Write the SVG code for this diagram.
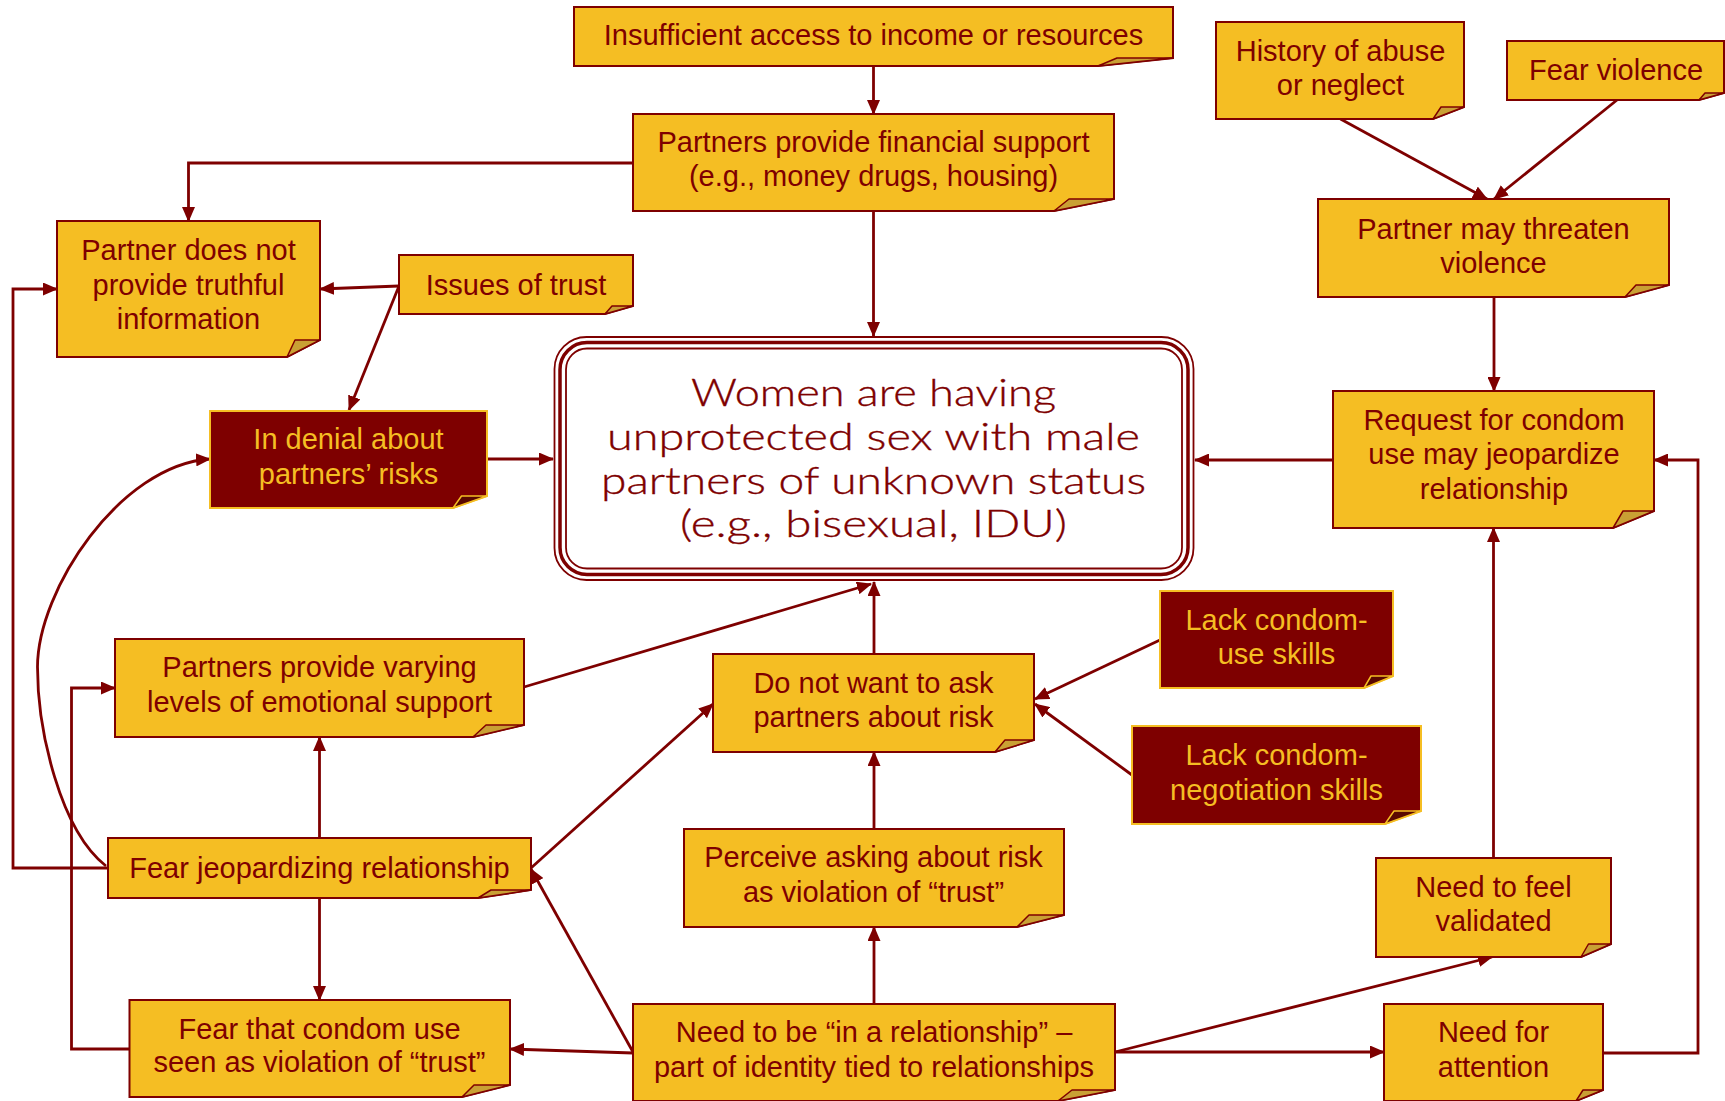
<svg xmlns="http://www.w3.org/2000/svg" width="1725" height="1101" viewBox="0 0 1725 1101">
  <style>
    .body { fill: #F5BE23; stroke: #7E0000; stroke-width: 2; stroke-linejoin: miter; }
    .fold { fill: #C9A034; stroke: #7E0000; stroke-width: 1.5; stroke-linejoin: round; }
    .dark .body { fill: #7E0000; stroke: #F5BE23; }
    .dark .fold { fill: #5A0800; stroke: #F5BE23; }
    .t { font-family: "Liberation Sans", Arial, sans-serif; font-size: 29px; fill: #7E0000; text-anchor: middle; }
    .dark .t { fill: #F5BE23; }
    .ct { font-family: Lato, "DejaVu Sans", sans-serif; font-weight: 300; font-size: 37px; fill: #7E0000; stroke: #7E0000; stroke-width: 0.35; text-anchor: middle; }
    .c { fill: none; stroke: #7E0000; stroke-width: 2.8; marker-end: url(#arr); }
    .frame { fill: none; stroke: #7E0000; }
  </style>
  <defs>
    <marker id="arr" viewBox="0 0 15 13" refX="14" refY="6.5" markerWidth="15" markerHeight="13" markerUnits="userSpaceOnUse" orient="auto">
      <path d="M0,0 L15,6.5 L0,13 z" fill="#7E0000"/>
    </marker>
  </defs>
  <rect width="1725" height="1101" fill="#FFFFFF"/>

  <!-- connectors -->
  <g id="connectors">
    <path class="c" d="M873.5,66 V114"/>
    <path class="c" d="M633,163 H188.5 V221"/>
    <path class="c" d="M873.5,211 V336"/>
    <path class="c" d="M399,286 L320,289"/>
    <path class="c" d="M399,286 L349,410"/>
    <path class="c" d="M487,459 L553,459"/>
    <path class="c" d="M1340.5,119 L1487,199"/>
    <path class="c" d="M1617,100 L1494,199"/>
    <path class="c" d="M1494,297 V391"/>
    <path class="c" d="M1333,460 H1195"/>
    <path class="c" d="M1603,1053 H1698 V460 H1654"/>
    <path class="c" d="M1493.5,858 V528"/>
    <path class="c" d="M1115,1052 L1492,957"/>
    <path class="c" d="M1115,1052 H1384"/>
    <path class="c" d="M874,1004 V927"/>
    <path class="c" d="M874,829 V752"/>
    <path class="c" d="M874,654 V582"/>
    <path class="c" d="M524,687 L871,584"/>
    <path class="c" d="M1160,640 L1035,699"/>
    <path class="c" d="M1132,775 L1035,704"/>
    <path class="c" d="M531,868 L713,704"/>
    <path class="c" d="M633,1052 L531,869"/>
    <path class="c" d="M633,1053 L510,1049"/>
    <path class="c" d="M319.5,838 V737"/>
    <path class="c" d="M319.5,898 V1000"/>
    <path class="c" d="M108,868 H13 V289 H57"/>
    <path class="c" d="M129.5,1049 H71.5 V688 H115"/>
    <path class="c" d="M106,866 C60,830 37.5,730 37.5,667 C37.5,590 120,465 210,459"/>
  </g>

  <!-- top row -->
  <g id="income">
    <path class="body" d="M574,7 H1173 V58 L1098,66 H574 Z"/>
    <path class="fold" d="M1098,66 L1117,58 L1173,58 Z"/>
    <text class="t" x="873.5" y="45">Insufficient access to income or resources</text>
  </g>
  <g id="financial">
    <path class="body" d="M633,114 H1114 V199 L1054,211 H633 Z"/>
    <path class="fold" d="M1054,211 L1069,199 L1114,199 Z"/>
    <text class="t" x="873.5" y="151.5">Partners provide financial support</text>
    <text class="t" x="873.5" y="186">(e.g., money drugs, housing)</text>
  </g>
  <g id="history">
    <path class="body" d="M1216,22 H1464 V107 L1433,119 H1216 Z"/>
    <path class="fold" d="M1433,119 L1441,107 L1464,107 Z"/>
    <text class="t" x="1340.5" y="60.5">History of abuse</text>
    <text class="t" x="1340.5" y="94.5">or neglect</text>
  </g>
  <g id="fear-violence">
    <path class="body" d="M1507,41 H1724 V93 L1699,100 H1507 Z"/>
    <path class="fold" d="M1699,100 L1705,93 L1724,93 Z"/>
    <text class="t" x="1616" y="79.5">Fear violence</text>
  </g>
  <g id="threaten">
    <path class="body" d="M1318,199 H1669 V285 L1625,297 H1318 Z"/>
    <path class="fold" d="M1625,297 L1636,285 L1669,285 Z"/>
    <text class="t" x="1493.5" y="238.5">Partner may threaten</text>
    <text class="t" x="1493.5" y="273">violence</text>
  </g>

  <!-- left column -->
  <g id="truthful">
    <path class="body" d="M57,221 H320 V340 L287,357 H57 Z"/>
    <path class="fold" d="M287,357 L295,340 L320,340 Z"/>
    <text class="t" x="188.5" y="260">Partner does not</text>
    <text class="t" x="188.5" y="294.5">provide truthful</text>
    <text class="t" x="188.5" y="329">information</text>
  </g>
  <g id="trust">
    <path class="body" d="M399,255 H633 V306 L605,314 H399 Z"/>
    <path class="fold" d="M605,314 L612,306 L633,306 Z"/>
    <text class="t" x="516" y="294.5">Issues of trust</text>
  </g>
  <g id="denial" class="dark">
    <path class="body" d="M210,411 H487 V496 L453,508 H210 Z"/>
    <path class="fold" d="M453,508 L461.5,496 L487,496 Z"/>
    <text class="t" x="348.5" y="448.5">In denial about</text>
    <text class="t" x="348.5" y="484">partners’ risks</text>
  </g>
  <g id="emotional">
    <path class="body" d="M115,639 H524 V725 L473,737 H115 Z"/>
    <path class="fold" d="M473,737 L486,725 L524,725 Z"/>
    <text class="t" x="319.5" y="676.5">Partners provide varying</text>
    <text class="t" x="319.5" y="711.5">levels of emotional support</text>
  </g>
  <g id="fear-jeopardizing">
    <path class="body" d="M108,838 H531 V890 L478,898 H108 Z"/>
    <path class="fold" d="M478,898 L491,890 L531,890 Z"/>
    <text class="t" x="319.5" y="877.5">Fear jeopardizing relationship</text>
  </g>
  <g id="fear-condom">
    <path class="body" d="M129.5,1000 H510 V1085 L462,1097 H129.5 Z"/>
    <path class="fold" d="M462,1097 L474,1085 L510,1085 Z"/>
    <text class="t" x="319.5" y="1038.5">Fear that condom use</text>
    <text class="t" x="319.5" y="1071.5">seen as violation of “trust”</text>
  </g>

  <!-- central outcome -->
  <g id="outcome">
    <rect x="554.5" y="337" width="639" height="243" rx="32" fill="#FFFFFF"/>
    <rect class="frame" x="554.5" y="337" width="639" height="243" rx="32" stroke-width="1.8"/>
    <rect class="frame" x="560" y="342.5" width="628" height="232" rx="27" stroke-width="3.5"/>
    <rect class="frame" x="566" y="348.5" width="616" height="220" rx="21" stroke-width="1.8"/>
    <text class="ct" x="873.5" y="406" textLength="365" lengthAdjust="spacingAndGlyphs">Women are having</text>
    <text class="ct" x="873.5" y="449.5" textLength="533" lengthAdjust="spacingAndGlyphs">unprotected sex with male</text>
    <text class="ct" x="873.5" y="493.5" textLength="545" lengthAdjust="spacingAndGlyphs">partners of unknown status</text>
    <text class="ct" x="873.5" y="537" textLength="387" lengthAdjust="spacingAndGlyphs">(e.g., bisexual, IDU)</text>
  </g>

  <!-- middle column -->
  <g id="dont-ask">
    <path class="body" d="M713,654 H1034 V740 L995,752 H713 Z"/>
    <path class="fold" d="M995,752 L1005,740 L1034,740 Z"/>
    <text class="t" x="873.5" y="692.5">Do not want to ask</text>
    <text class="t" x="873.5" y="726.5">partners about risk</text>
  </g>
  <g id="perceive">
    <path class="body" d="M684,829 H1064 V915 L1017,927 H684 Z"/>
    <path class="fold" d="M1017,927 L1029,915 L1064,915 Z"/>
    <text class="t" x="873.5" y="867">Perceive asking about risk</text>
    <text class="t" x="873.5" y="901.5">as violation of “trust”</text>
  </g>
  <g id="identity">
    <path class="body" d="M633,1004 H1115 V1090 L1058,1101 H633 Z"/>
    <path class="fold" d="M1058,1101 L1072,1090 L1115,1090 Z"/>
    <text class="t" x="874" y="1041.5">Need to be “in a relationship” –</text>
    <text class="t" x="874" y="1076.5">part of identity tied to relationships</text>
  </g>

  <!-- right column -->
  <g id="request">
    <path class="body" d="M1333,391 H1654 V511 L1613,528 H1333 Z"/>
    <path class="fold" d="M1613,528 L1623,511 L1654,511 Z"/>
    <text class="t" x="1494" y="429.5">Request for condom</text>
    <text class="t" x="1494" y="463.5">use may jeopardize</text>
    <text class="t" x="1494" y="499">relationship</text>
  </g>
  <g id="use-skills" class="dark">
    <path class="body" d="M1160,591 H1393 V676 L1364,688 H1160 Z"/>
    <path class="fold" d="M1364,688 L1371,676 L1393,676 Z"/>
    <text class="t" x="1276.5" y="630">Lack condom-</text>
    <text class="t" x="1276.5" y="663.5">use skills</text>
  </g>
  <g id="negotiation-skills" class="dark">
    <path class="body" d="M1132,726 H1421 V811 L1385,824 H1132 Z"/>
    <path class="fold" d="M1385,824 L1394,811 L1421,811 Z"/>
    <text class="t" x="1276.5" y="765">Lack condom-</text>
    <text class="t" x="1276.5" y="800">negotiation skills</text>
  </g>
  <g id="validated">
    <path class="body" d="M1376,858 H1611 V944 L1581,957 H1376 Z"/>
    <path class="fold" d="M1581,957 L1588.5,944 L1611,944 Z"/>
    <text class="t" x="1493.5" y="897">Need to feel</text>
    <text class="t" x="1493.5" y="931">validated</text>
  </g>
  <g id="attention">
    <path class="body" d="M1384,1004 H1603 V1090 L1576,1101 H1384 Z"/>
    <path class="fold" d="M1576,1101 L1583,1090 L1603,1090 Z"/>
    <text class="t" x="1493.5" y="1041.5">Need for</text>
    <text class="t" x="1493.5" y="1076.5">attention</text>
  </g>
</svg>
